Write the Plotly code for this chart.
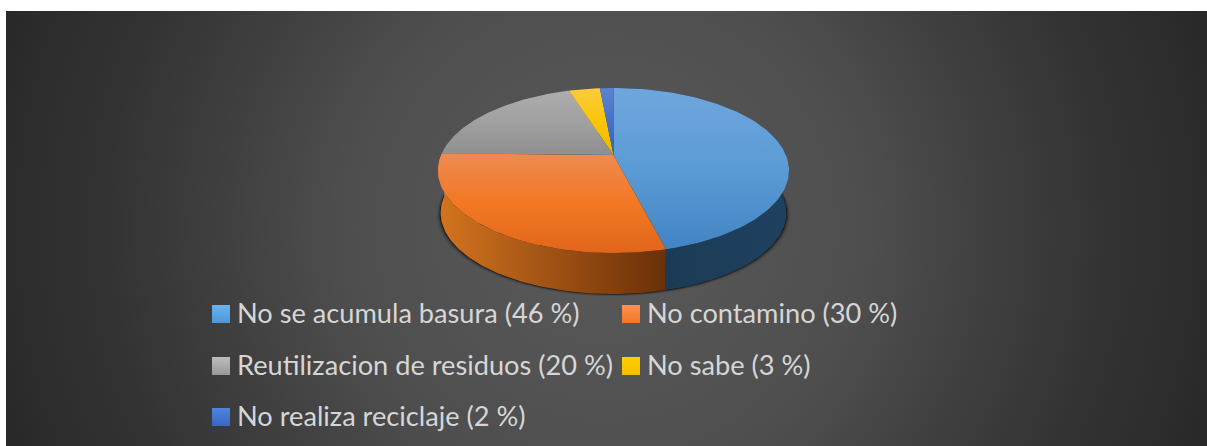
import numpy as np
import plotly.graph_objects as go

categories = ["No se acumula basura (46 %)", "No contamino (30 %)", "Reutilizacion de residuos (20 %)", "No sabe (3 %)", "No realiza reciclaje (2 %)"]
values = [46, 29.3, 19.8, 3.4, 1.5]
face_top = ["#70a6dd", "#ee8a52", "#adadad", "#fccb3e", "#5a84d2"]
face_mid = ["#5b9bd5", "#f27824", "#a0a0a0", "#fbc506", "#4472c4"]
face_bot = ["#4283c4", "#e2661a", "#8f8f8f", "#eeba00", "#3a66ba"]
side_left = ["#1a3850", "#d4741f", "#777777", "#9a7a00", "#2a4a80"]
side_right = ["#1f4160", "#6a3008", "#555555", "#7a6000", "#203a66"]
swatch_top = ["#66b4f0", "#ff9250", "#bcbcbc", "#ffd000", "#4f86e0"]
swatch_bot = ["#4f96d8", "#ef7528", "#989898", "#f5bd00", "#3a66c0"]
background_stops = [[0, "#5a5a5a"], [0.41, "#4e4e4e"], [0.59, "#404040"], [0.78, "#333333"], [0.93, "#2c2c2c"], [1, "#282828"]]

# legend layout: (symbol x, row y) for each category, in page pixels
legend_x = [221, 631, 221, 631, 221]
legend_y = [314, 314, 366, 366, 417]

W, H = 1207, 446
left, top_edge = 6, 11
cx, cy = 613.5, 155.0
a, b, k = 172.4, 79.6, 0.188
depth, shrink = 42.5, 0.985


def project(theta, r=1.0, top=True):
    u, v = r * np.sin(theta), -r * np.cos(theta)
    w = 1 - k * v
    x, y = a * u / w, b * v / w
    if top:
        return cx + x, cy + y
    return cx + shrink * x, cy + depth + shrink * y


fig = go.Figure()


def grad(kind, stops):
    n = len(stops) - 1
    return dict(type=kind, colorscale=[[i / n, c] for i, c in enumerate(stops)])


# background: an oversized square clipped by the plot area, so the radial gradient stays circular
half = 640
bx, by = 606, 228
fig.add_trace(go.Scatter(x=[bx - half, bx + half, bx + half, bx - half, bx - half],
                         y=[by - half, by - half, by + half, by + half, by - half],
                         mode="lines", line=dict(width=0), fill="toself",
                         fillgradient=dict(type="radial", colorscale=background_stops),
                         hoverinfo="skip", showlegend=False))

fractions = np.array(values) / sum(values)
edges = np.concatenate([[0], np.cumsum(fractions)]) * 2 * np.pi

# soft shadow under the body
t = np.linspace(0, 2 * np.pi, 241)
for grow, alpha in [(4, 0.08), (2.5, 0.14), (1.5, 0.25), (0.7, 0.4)]:
    x, y = project(t, top=False)
    fig.add_trace(go.Scatter(x=cx + (x - cx) * (1 + grow / 175), y=y + grow * 0.6, mode="lines", line=dict(width=0),
                             fill="toself", fillcolor=f"rgba(0,0,0,{alpha})", hoverinfo="skip", showlegend=False))

# side walls
for i, name in enumerate(categories):
    th = np.linspace(edges[i], edges[i + 1], 120)
    x1, y1 = project(th)
    x2, y2 = project(th[::-1], top=False)
    fig.add_trace(go.Scatter(x=np.r_[x1, x2, x1[0]], y=np.r_[y1, y2, y1[0]], mode="lines", line=dict(width=0),
                             fill="toself", fillgradient=grad("horizontal", [side_left[i], side_right[i]]),
                             hoverinfo="skip", showlegend=False))

# top faces
for i, name in enumerate(categories):
    th = np.linspace(edges[i], edges[i + 1], 120)
    x1, y1 = project(th)
    fig.add_trace(go.Scatter(x=np.r_[cx, x1, cx], y=np.r_[cy, y1, cy], mode="lines", line=dict(width=0),
                             fill="toself", fillgradient=grad("vertical", [face_bot[i], face_mid[i], face_top[i]]),
                             name=name, hoverinfo="name", showlegend=False))

# legend
fig.add_trace(go.Scatter(x=legend_x, y=legend_y, mode="markers",
                         marker=dict(symbol="square", size=18, color=swatch_top,
                                     gradient=dict(type="vertical", color=swatch_bot), line=dict(width=0)),
                         hoverinfo="skip", showlegend=False))
for name, lx, ly in zip(categories, legend_x, legend_y):
    fig.add_annotation(x=lx + 14, y=ly - 1.5, text=name, showarrow=False, xanchor="left", yanchor="middle",
                       font=dict(family="Lato", size=27.2, color="#d6d6d6"))

fig.update_layout(width=W, height=H, autosize=False, margin=dict(l=0, r=0, t=0, b=0),
                  paper_bgcolor="white", plot_bgcolor="white", showlegend=False)
fig.update_xaxes(range=[left, W], domain=[left / W, 1], visible=False, fixedrange=True)
fig.update_yaxes(range=[H, top_edge], domain=[0, 1 - top_edge / H], visible=False, fixedrange=True)
fig.write_html("out.html", config=dict(displayModeBar=False),
               post_script="document.body.style.margin='0';document.body.style.overflow='hidden';")
